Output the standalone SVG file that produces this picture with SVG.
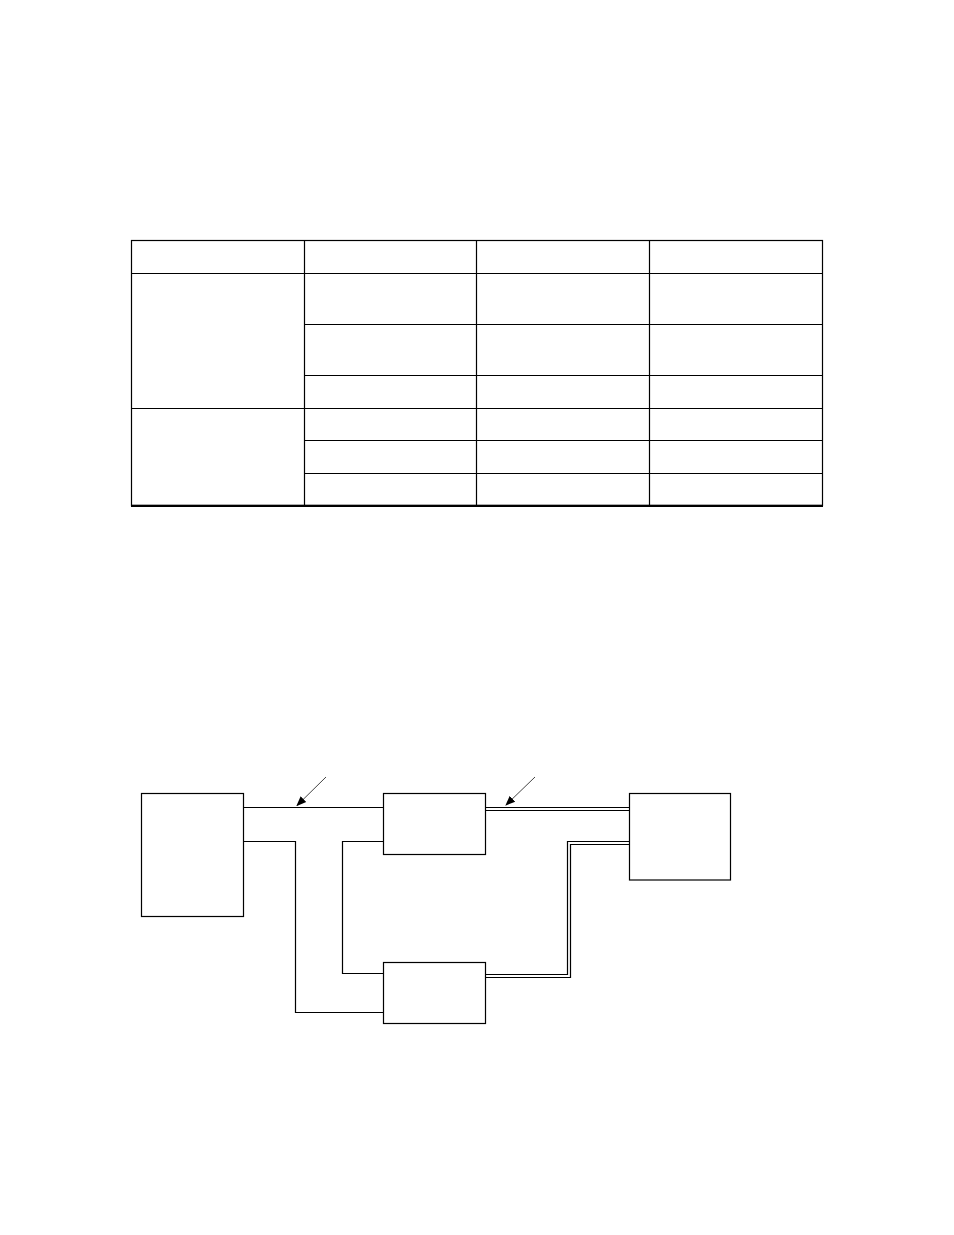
<svg xmlns="http://www.w3.org/2000/svg" width="954" height="1235" viewBox="0 0 954 1235">
<style>
.ln{stroke:#000;stroke-width:1.2;fill:none}
.box{stroke:#000;stroke-width:1.2;fill:#fff}
.ar{stroke:#444;stroke-width:1}
</style>
<defs>
<marker id="ah" markerWidth="10" markerHeight="10" refX="9" refY="5" orient="auto" markerUnits="userSpaceOnUse">
<path d="M0,1 L10,5 L0,9 Z" fill="#000"/>
</marker>
</defs>
<rect width="954" height="1235" fill="#fff"/>
<g id="table">
<rect x="131.5" y="240.5" width="691" height="265" class="ln"/>
<line x1="131" y1="505.8" x2="823" y2="505.8" stroke="#000" stroke-width="2.2"/>
<line x1="304.5" y1="240.5" x2="304.5" y2="505.5" class="ln"/>
<line x1="476.5" y1="240.5" x2="476.5" y2="505.5" class="ln"/>
<line x1="649.5" y1="240.5" x2="649.5" y2="505.5" class="ln"/>
<line x1="131.5" y1="273.5" x2="822.5" y2="273.5" class="ln"/>
<line x1="131.5" y1="408.5" x2="822.5" y2="408.5" class="ln"/>
<line x1="304.5" y1="324.5" x2="822.5" y2="324.5" class="ln"/>
<line x1="304.5" y1="375.5" x2="822.5" y2="375.5" class="ln"/>
<line x1="304.5" y1="440.5" x2="822.5" y2="440.5" class="ln"/>
<line x1="304.5" y1="473.5" x2="822.5" y2="473.5" class="ln"/>
</g>
<g id="connectors">
<polyline points="243.5,807.5 383.5,807.5" class="ln"/>
<polyline points="243.5,841.5 295.5,841.5 295.5,1012.5 383.5,1012.5" class="ln"/>
<polyline points="383.5,841.5 342.5,841.5 342.5,973.5 383.5,973.5" class="ln"/>
<polyline points="485.5,807.5 629.5,807.5" class="ln"/>
<polyline points="485.5,810.5 629.5,810.5" class="ln"/>
<polyline points="629.5,841.5 567.5,841.5 567.5,974.5 485.5,974.5" class="ln"/>
<polyline points="629.5,844.5 570.5,844.5 570.5,977.5 485.5,977.5" class="ln"/>
<line x1="326" y1="777" x2="297" y2="805.5" class="ar" marker-end="url(#ah)"/>
<line x1="535" y1="777" x2="506" y2="805" class="ar" marker-end="url(#ah)"/>
</g>
<g id="node-left"><rect x="141.5" y="793.5" width="102" height="123" class="box"/></g>
<g id="node-mid-top"><rect x="383.5" y="793.5" width="102" height="61" class="box"/></g>
<g id="node-mid-bottom"><rect x="383.5" y="962.5" width="102" height="61" class="box"/></g>
<g id="node-right"><rect x="629.5" y="793.5" width="101" height="86.5" class="box"/></g>
</svg>
